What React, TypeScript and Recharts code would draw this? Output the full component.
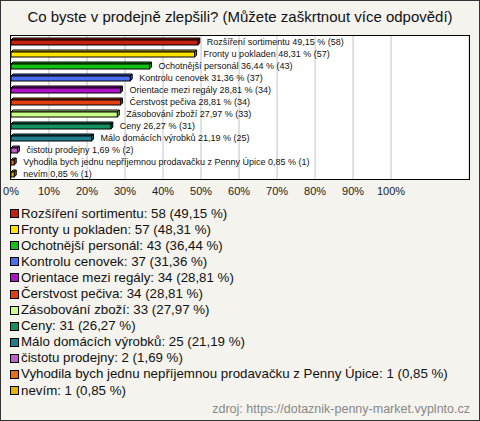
import React from 'react';
import { BarChart, Bar, XAxis, YAxis, CartesianGrid, LabelList } from 'recharts';

const categories = [
  'Rozšíření sortimentu',
  'Fronty u pokladen',
  'Ochotnější personál',
  'Kontrolu cenovek',
  'Orientace mezi regály',
  'Čerstvost pečiva',
  'Zásobování zboží',
  'Ceny',
  'Málo domácích výrobků',
  'čistotu prodejny',
  'Vyhodila bych jednu nepříjemnou prodavačku z Penny Úpice',
  'nevím',
];
const counts = [58, 57, 43, 37, 34, 34, 33, 31, 25, 2, 1, 1];
const percents = [49.15, 48.31, 36.44, 31.36, 28.81, 28.81, 27.97, 26.27, 21.19, 1.69, 0.85, 0.85];
const colors = [
  '#c4200e', '#ffe400', '#12c312', '#4a6ef0', '#b012cc', '#e2400e',
  '#ccff88', '#12925e', '#1f7f8f', '#c060c6', '#e8700e', '#e8b400',
];
const xTicks = [0, 10, 20, 30, 40, 50, 60, 70, 80, 90, 100];

const fmt = (v: number) => v.toFixed(2).replace('.', ',');

const data = categories.map((name, i) => ({
  name,
  pct: percents[i],
  count: counts[i],
  color: colors[i],
  label: `${name} ${fmt(percents[i])} % (${counts[i]})`,
}));

const FONT = '"Liberation Sans", Arial, sans-serif';

// darken a hex colour a bit for the 3D faces
const shade = (hex: string, k: number) => {
  const n = parseInt(hex.slice(1), 16);
  const r = Math.round(((n >> 16) & 255) * k);
  const g = Math.round(((n >> 8) & 255) * k);
  const b = Math.round((n & 255) * k);
  return `rgb(${r},${g},${b})`;
};

const Bar3D = (props: any) => {
  const { x, height, width, payload } = props;
  const y = props.y + 1;
  const w = Math.max(width, 1);
  const h = height;
  const d = 2;
  const c = payload.color;
  return (
    <g>
      <polygon
        points={`${x},${y} ${x + d},${y - d} ${x + w + d},${y - d} ${x + w},${y}`}
        fill={shade(c, 0.85)}
        stroke="#000"
        strokeWidth={1}
      />
      <polygon
        points={`${x + w},${y} ${x + w + d},${y - d} ${x + w + d},${y + h - d} ${x + w},${y + h}`}
        fill={shade(c, 0.7)}
        stroke="#000"
        strokeWidth={1}
      />
      <rect x={x} y={y} width={w} height={h} fill={c} stroke="#000" strokeWidth={1} />
    </g>
  );
};

const BarLabel = (props: any) => {
  const { x, y, width, height, value } = props;
  return (
    <text
      x={x + width + 9}
      y={y + height / 2 + 0.5}
      fontSize={9}
      fontFamily={FONT}
      fill="#111"
      dominantBaseline="central"
    >
      {value}
    </text>
  );
};

export default function App() {
  return (
    <div
      style={{
        position: 'absolute',
        left: 0,
        top: 0,
        width: 480,
        height: 421,
        background: '#f4f3ee',
        boxShadow: 'inset 0 0 0 1px #333',
        fontFamily: FONT,
        overflow: 'hidden',
      }}
    >
      <div
        style={{
          position: 'absolute',
          top: 8,
          left: 0,
          width: 480,
          textAlign: 'center',
          fontSize: 15,
          color: '#111',
        }}
      >
        Co byste v prodejně zlepšili? (Můžete zaškrtnout více odpovědí)
      </div>

      <div style={{ position: 'absolute', left: 0, top: 0 }}>
        <BarChart
          width={480}
          height={200}
          data={data}
          layout="vertical"
          margin={{ top: 35, right: 11, left: 11, bottom: 0 }}
          barSize={5}
        >
          <CartesianGrid horizontal={false} stroke="#c4c4c4" fill="#fff" />
          <XAxis
            type="number"
            domain={[0, 120.5]}
            ticks={xTicks}
            tickFormatter={(v: number) => `${v}%`}
            axisLine={false}
            tickLine={false}
            height={21}
            tick={{ fontSize: 11, fill: '#222', fontFamily: FONT }}
            interval={0}
          />
          <YAxis type="category" dataKey="name" hide width={0} />
          <Bar dataKey="pct" shape={<Bar3D />} isAnimationActive={false}>
            <LabelList dataKey="label" content={<BarLabel />} />
          </Bar>
        </BarChart>
      </div>

      <div
        style={{
          position: 'absolute',
          left: 10,
          top: 35,
          width: 460,
          height: 145,
          border: '1px solid #000',
          boxSizing: 'border-box',
          pointerEvents: 'none',
        }}
      />

      <div style={{ position: 'absolute', left: 10, top: 205 }}>
        {data.map((d) => (
          <div
            key={d.name}
            style={{
              display: 'flex',
              alignItems: 'center',
              height: 16.1,
              fontSize: 13.3,
              color: '#111',
              whiteSpace: 'nowrap',
            }}
          >
            <span
              style={{
                display: 'inline-block',
                width: 7,
                height: 7,
                background: d.color,
                border: '1px solid #000',
                marginRight: 2,
                marginTop: 1,
                flexShrink: 0,
              }}
            />
            {`${d.name}: ${d.count} (${fmt(d.pct)} %)`}
          </div>
        ))}
      </div>

      <div
        style={{
          position: 'absolute',
          right: 10,
          top: 402,
          fontSize: 12.5,
          color: '#888',
        }}
      >
        zdroj: https://dotaznik-penny-market.vyplnto.cz
      </div>
    </div>
  );
}
